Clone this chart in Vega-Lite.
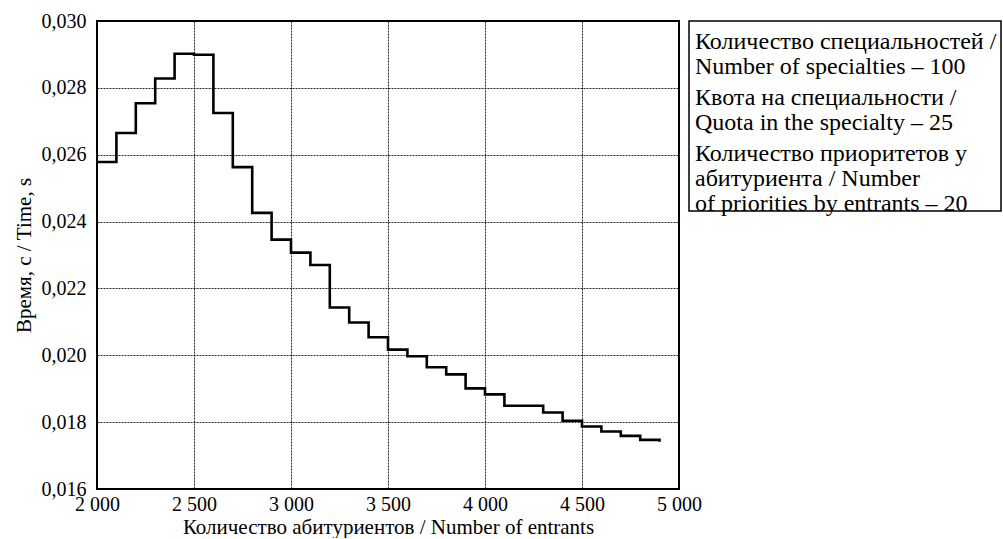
{
  "$schema": "https://vega.github.io/schema/vega-lite/v6.json",
  "padding": {"left": 12, "top": 10, "right": 0, "bottom": 0},
  "background": "white",
  "bounds": "flush",
  "spacing": 10,
  "config": {
    "font": "Liberation Serif",
    "view": {"stroke": "black", "strokeWidth": 2},
    "axis": {
      "labelFont": "Liberation Serif",
      "titleFont": "Liberation Serif",
      "labelColor": "black",
      "titleColor": "black",
      "labelFontSize": 20,
      "titleFontSize": 21,
      "titleFontWeight": "normal",
      "labelFlush": false,
      "domain": false,
      "ticks": false,
      "gridColor": "black",
      "gridDash": [2, 1],
      "gridWidth": 1,
      "gridOpacity": 0.85
    }
  },
  "datasets": {
    "timing": [
      {"entrants": 2000, "time": 0.02578},
      {"entrants": 2100, "time": 0.02665},
      {"entrants": 2200, "time": 0.02754},
      {"entrants": 2300, "time": 0.02828},
      {"entrants": 2400, "time": 0.02902},
      {"entrants": 2500, "time": 0.02899},
      {"entrants": 2600, "time": 0.02725},
      {"entrants": 2700, "time": 0.02563},
      {"entrants": 2800, "time": 0.02426},
      {"entrants": 2900, "time": 0.02346},
      {"entrants": 3000, "time": 0.02307},
      {"entrants": 3100, "time": 0.02270},
      {"entrants": 3200, "time": 0.02143},
      {"entrants": 3300, "time": 0.02098},
      {"entrants": 3400, "time": 0.02054},
      {"entrants": 3500, "time": 0.02017},
      {"entrants": 3600, "time": 0.01997},
      {"entrants": 3700, "time": 0.01964},
      {"entrants": 3800, "time": 0.01943},
      {"entrants": 3900, "time": 0.01901},
      {"entrants": 4000, "time": 0.01883},
      {"entrants": 4100, "time": 0.01849},
      {"entrants": 4200, "time": 0.01849},
      {"entrants": 4300, "time": 0.01829},
      {"entrants": 4400, "time": 0.01804},
      {"entrants": 4500, "time": 0.01787},
      {"entrants": 4600, "time": 0.01772},
      {"entrants": 4700, "time": 0.01759},
      {"entrants": 4800, "time": 0.01747},
      {"entrants": 4900, "time": 0.01741}
    ],
    "notes": [
      {"item": 1, "text": ["Количество специальностей /", "Number of specialties – 100"]},
      {"item": 2, "text": ["Квота на специальности /", "Quota in the specialty – 25"]},
      {"item": 3, "text": ["Количество приоритетов у", "абитуриента / Number", "of priorities by entrants – 20"]}
    ]
  },
  "hconcat": [
    {
      "width": 582,
      "height": 468,
      "data": {"name": "timing"},
      "mark": {"type": "line", "interpolate": "step-after", "color": "black", "strokeWidth": 2.6},
      "encoding": {
        "x": {
          "field": "entrants",
          "type": "quantitative",
          "scale": {"domain": [2000, 5000], "nice": false, "zero": false},
          "axis": {
            "values": [2000, 2500, 3000, 3500, 4000, 4500, 5000],
            "labelExpr": "replace(format(datum.value, ','), ',', ' ')",
            "labelFont": "Liberation Serif",
            "labelPadding": 5,
            "titlePadding": 2,
            "title": "Количество абитуриентов / Number of entrants"
          }
        },
        "y": {
          "field": "time",
          "type": "quantitative",
          "scale": {"domain": [0.016, 0.03], "nice": false, "zero": false},
          "axis": {
            "values": [0.016, 0.018, 0.02, 0.022, 0.024, 0.026, 0.028, 0.03],
            "labelExpr": "replace(format(datum.value, '.3f'), '.', ',')",
            "labelFont": "Liberation Serif",
            "labelPadding": 11,
            "titlePadding": 7,
            "title": "Время, с / Time, s"
          }
        }
      }
    },
    {
      "width": 312,
      "height": 190,
      "view": {"stroke": "black", "strokeWidth": 1.5},
      "data": {"name": "notes"},
      "mark": {"type": "text", "align": "left", "baseline": "top", "fontSize": 24, "lineHeight": 25, "font": "Liberation Serif", "color": "black"},
      "encoding": {
        "y": {"field": "item", "type": "ordinal", "scale": {"type": "point", "range": [9, 121], "padding": 0}, "axis": null},
        "x": {"value": 6},
        "text": {"field": "text"}
      }
    }
  ]
}
